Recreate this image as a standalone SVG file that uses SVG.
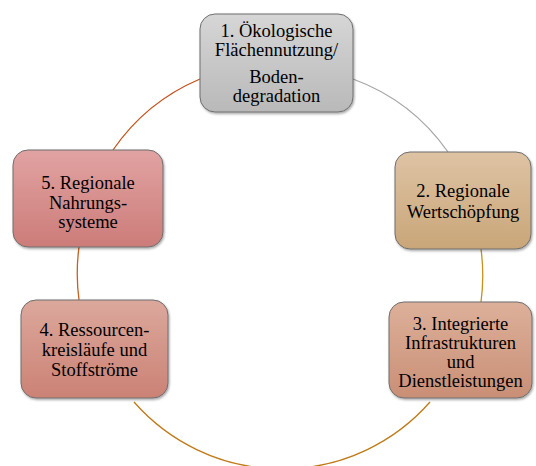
<svg xmlns="http://www.w3.org/2000/svg" width="536" height="466" viewBox="0 0 536 466">
<defs>
<linearGradient id="g1" x1="0" y1="0" x2="0" y2="1"><stop offset="0" stop-color="#d6d6d6"/><stop offset="1" stop-color="#b9b9b9"/></linearGradient>
<linearGradient id="g2" x1="0" y1="0" x2="0" y2="1"><stop offset="0" stop-color="#dec3a4"/><stop offset="1" stop-color="#c9a679"/></linearGradient>
<linearGradient id="g3" x1="0" y1="0" x2="0" y2="1"><stop offset="0" stop-color="#ddb09a"/><stop offset="1" stop-color="#c98f76"/></linearGradient>
<linearGradient id="g4" x1="0" y1="0" x2="0" y2="1"><stop offset="0" stop-color="#dca89c"/><stop offset="1" stop-color="#cb8275"/></linearGradient>
<linearGradient id="g5" x1="0" y1="0" x2="0" y2="1"><stop offset="0" stop-color="#e1a3a2"/><stop offset="1" stop-color="#cc7c79"/></linearGradient>
<filter id="sh" x="-10%" y="-10%" width="120%" height="125%"><feDropShadow dx="1" dy="1.5" stdDeviation="1" flood-color="#000" flood-opacity="0.35"/></filter>
</defs>
<style>
.box{stroke:#6e6e6e;stroke-width:1;filter:url(#sh)}
.arc{fill:none;stroke-width:1.3}
</style>
<rect width="536" height="466" fill="#fff"/>
<g id="connectors">
<path class="arc" stroke="#c4501c" d="M113,150 A200,200 0 0 1 200,79"/>
<path class="arc" stroke="#a6a6a6" d="M353,79 A200,200 0 0 1 448,152"/>
<path class="arc" stroke="#c8901e" d="M481,249 A200,200 0 0 1 481,302"/>
<path class="arc" stroke="#c07a18" d="M430,402 A197,197 0 0 1 134,402"/>
<path class="arc" stroke="#c8601c" d="M79,300 A200,200 0 0 1 79,247"/>
</g>
<g id="node1">
<rect class="box" x="200" y="14" width="153" height="98" rx="15" fill="url(#g1)"/>
<text x="276.5" y="36.5" font-family="Liberation Serif" font-size="18.5" text-anchor="middle">1. Ökologische</text>
<text x="276.5" y="56" font-family="Liberation Serif" font-size="18.5" text-anchor="middle">Flächennutzung/</text>
<text x="276.5" y="83" font-family="Liberation Serif" font-size="18.5" text-anchor="middle">Boden-</text>
<text x="276.5" y="102" font-family="Liberation Serif" font-size="18.5" text-anchor="middle">degradation</text>
</g>
<g id="node2">
<rect class="box" x="395" y="152" width="136" height="97" rx="15" fill="url(#g2)"/>
<text x="463" y="197" font-family="Liberation Serif" font-size="18.5" text-anchor="middle">2. Regionale</text>
<text x="463" y="218" font-family="Liberation Serif" font-size="18.5" text-anchor="middle">Wertschöpfung</text>
</g>
<g id="node3">
<rect class="box" x="389" y="302" width="143" height="96" rx="15" fill="url(#g3)"/>
<text x="460.5" y="330" font-family="Liberation Serif" font-size="18.5" text-anchor="middle">3. Integrierte</text>
<text x="460.5" y="349" font-family="Liberation Serif" font-size="18.5" text-anchor="middle">Infrastrukturen</text>
<text x="460.5" y="368" font-family="Liberation Serif" font-size="18.5" text-anchor="middle">und</text>
<text x="460.5" y="387" font-family="Liberation Serif" font-size="18.5" text-anchor="middle">Dienstleistungen</text>
</g>
<g id="node4">
<rect class="box" x="21" y="300" width="147" height="98" rx="15" fill="url(#g4)"/>
<text x="94.5" y="336" font-family="Liberation Serif" font-size="18.5" text-anchor="middle">4. Ressourcen-</text>
<text x="94.5" y="356" font-family="Liberation Serif" font-size="18.5" text-anchor="middle">kreisläufe und</text>
<text x="94.5" y="376" font-family="Liberation Serif" font-size="18.5" text-anchor="middle">Stoffströme</text>
</g>
<g id="node5">
<rect class="box" x="13" y="150" width="150" height="97" rx="15" fill="url(#g5)"/>
<text x="88" y="189" font-family="Liberation Serif" font-size="18.5" text-anchor="middle">5. Regionale</text>
<text x="88" y="209" font-family="Liberation Serif" font-size="18.5" text-anchor="middle">Nahrungs-</text>
<text x="88" y="228" font-family="Liberation Serif" font-size="18.5" text-anchor="middle">systeme</text>
</g>
</svg>
